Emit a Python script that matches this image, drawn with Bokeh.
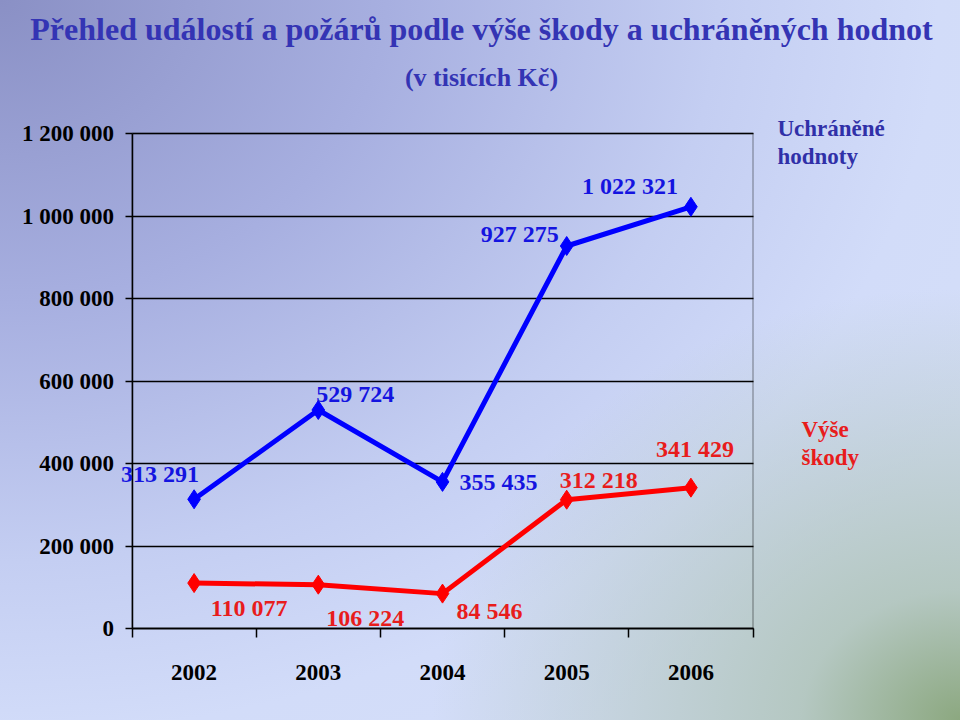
from bokeh.plotting import figure
from bokeh.models import Range1d, FixedTicker, Label, LabelSet, ColumnDataSource, LinearAxis, Grid, BoxAnnotation
from bokeh.core.properties import value
from bokeh.embed import file_html
from bokeh.resources import INLINE

# ---------------- data ----------------
years = [2002, 2003, 2004, 2005, 2006]
year_labels = ["2002", "2003", "2004", "2005", "2006"]
uchranene = [313291, 529724, 355435, 927275, 1022321]   # Uchráněné hodnoty
skody = [110077, 106224, 84546, 312218, 341429]         # Výše škody
y_ticks = [0, 200000, 400000, 600000, 800000, 1000000, 1200000]
y_tick_labels = ["0", "200 000", "400 000", "600 000", "800 000", "1 000 000", "1 200 000"]

title_text = "Přehled událostí a požárů podle výše škody a uchráněných hodnot"
subtitle_text = "(v tisících Kč)"
series_names = ["Uchráněné\nhodnoty", "Výše\nškody"]


def fmt(v):
    return f"{v:,}".replace(",", " ")


# ---------------- layout / styles ----------------
W, H = 960, 720
PX_LEFT, PX_RIGHT, PX_TOP, PX_BOTTOM = 131.5, 752.5, 133, 628

# label offsets (pixels)
blue_dx = [-34, 37, 56, -47, -61]
blue_dy = [25, 16, 0, 12, 21]
red_dx = [55, 47, 47, 32, 4]
red_dy = [-25, -33, -17, 20, 39]

FONT = "Liberation Serif"
BLUE = "#0000ff"
RED = "#ff0000"
BLUE_TXT = "#1414e0"
RED_TXT = "#e81c1c"
TITLE_COL = "#3434b4"

bg = ("radial-gradient(ellipse 55% 60% at 100% 100%, rgba(140,168,128,1) 0%, "
      "rgba(170,192,175,0.75) 30%, rgba(205,215,240,0) 100%), "
      "radial-gradient(ellipse 115% 120% at 0% 0%, #8a90c5 0%, #a7afe0 35%, "
      "#c4cef2 65%, #d2dcf9 85%, #d4def9 100%)")

# plot area in data units; the frame covers the whole canvas
x0, x1 = years[0] - 0.5, years[-1] + 0.5
y0, y1 = y_ticks[0], y_ticks[-1]
sx = (PX_RIGHT - PX_LEFT) / (x1 - x0)
sy = (PX_BOTTOM - PX_TOP) / (y1 - y0)

p = figure(width=W, height=H,
           x_range=Range1d(x0 - PX_LEFT / sx, x1 + (W - PX_RIGHT) / sx),
           y_range=Range1d(y0 - (H - PX_BOTTOM) / sy, y1 + PX_TOP / sy),
           x_axis_type=None, y_axis_type=None,
           output_backend="svg", toolbar_location=None, min_border=0)
p.background_fill_alpha = 0
p.border_fill_alpha = 0
p.outline_line_color = None
p.styles = {"background": bg}
p.grid.visible = False

# horizontal grid limited to the plot area
ygrid = Grid(dimension=1, ticker=FixedTicker(ticks=y_ticks), grid_line_color="black",
             grid_line_width=1.5, cross_bounds=(x0, x1))
p.add_layout(ygrid)

# box around the plot area
p.add_layout(BoxAnnotation(left=x0, right=x1, bottom=y0, top=y1, fill_alpha=0,
                           line_color="black", line_width=1.5))

# x axis: ticks between categories (minor), labels at centers
xa = LinearAxis(fixed_location=y0, bounds=(x0, x1))
xa.ticker = FixedTicker(ticks=years, minor_ticks=[y - 0.5 for y in years] + [years[-1] + 0.5])
xa.major_label_overrides = {y: l for y, l in zip(years, year_labels)}
xa.major_tick_in = 0
xa.major_tick_out = 0
xa.minor_tick_in = 0
xa.minor_tick_out = 9
xa.minor_tick_line_color = "black"
xa.minor_tick_line_width = 1.5
xa.axis_line_color = "black"
xa.axis_line_width = 1.5
xa.major_label_standoff = 27
xa.major_label_text_font = FONT
xa.major_label_text_font_style = "bold"
xa.major_label_text_font_size = "23px"
xa.major_label_text_color = "black"
p.add_layout(xa, "below")

ya = LinearAxis(fixed_location=x0, bounds=(y0, y1))
ya.ticker = FixedTicker(ticks=y_ticks, minor_ticks=[])
ya.major_label_overrides = {t: l for t, l in zip(y_ticks, y_tick_labels)}
ya.major_tick_in = 0
ya.major_tick_out = 7
ya.major_tick_line_width = 1.5
ya.axis_line_color = "black"
ya.axis_line_width = 1.5
ya.major_label_standoff = 11
ya.major_label_text_font = FONT
ya.major_label_text_font_style = "bold"
ya.major_label_text_font_size = "23px"
ya.major_label_text_color = "black"
p.add_layout(ya, "left")

# series
p.line(years, uchranene, line_color=BLUE, line_width=5)
p.scatter(years, uchranene, marker="diamond", size=19, fill_color=BLUE, line_color=BLUE)
p.line(years, skody, line_color=RED, line_width=5)
p.scatter(years, skody, marker="diamond", size=19, fill_color=RED, line_color=RED)

# value labels
for vals, dx, dy, col in [(uchranene, blue_dx, blue_dy, BLUE_TXT), (skody, red_dx, red_dy, RED_TXT)]:
    src = ColumnDataSource(dict(x=years, y=vals, t=[fmt(v) for v in vals], dx=dx, dy=dy))
    p.add_layout(LabelSet(x="x", y="y", text="t", source=src, x_offset="dx", y_offset="dy",
                          text_align="center", text_baseline="middle",
                          text_font=value(FONT), text_font_style="bold",
                          text_font_size="24px", text_color=col))

# title / subtitle / series names (screen units)
p.add_layout(Label(x=481, y=H - 28, x_units="screen", y_units="screen", text=title_text,
                   text_align="center", text_baseline="alphabetic", text_font=FONT,
                   text_font_style="bold", text_font_size="32px", text_color=TITLE_COL))
p.add_layout(Label(x=481, y=H - 77, x_units="screen", y_units="screen", text=subtitle_text,
                   text_align="center", text_baseline="alphabetic", text_font=FONT,
                   text_font_style="bold", text_font_size="26px", text_color=TITLE_COL))
p.add_layout(Label(x=777, y=H - 115, x_units="screen", y_units="screen", text=series_names[0],
                   text_align="left", text_baseline="top", text_font=FONT,
                   text_font_style="bold", text_font_size="23px", text_color="#3030a8",
                   text_line_height=1.12))
p.add_layout(Label(x=801, y=H - 416, x_units="screen", y_units="screen", text=series_names[1],
                   text_align="left", text_baseline="top", text_font=FONT,
                   text_font_style="bold", text_font_size="23px", text_color=RED_TXT,
                   text_line_height=1.15))

open("out.html", "w").write(file_html(p, INLINE))
